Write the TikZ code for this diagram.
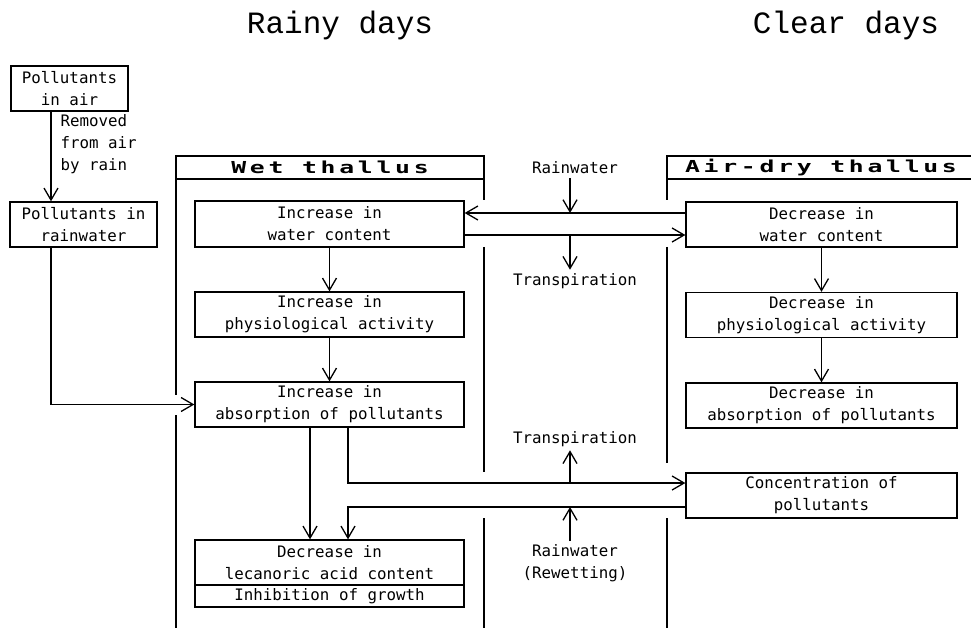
\documentclass[tikz,border=0pt]{standalone}
\usepackage{fontspec}
\usetikzlibrary{arrows.meta}
\newfontfamily\boxfont{DejaVu Sans Mono}
\newfontfamily\titlefont{Liberation Mono}
\newfontfamily\headfont[LetterSpace=15]{DejaVu Sans Mono}
\newcommand\bxf{\boxfont\fontsize{15.8}{22}\selectfont}
\newcommand\ttlf{\titlefont\fontsize{31}{34}\selectfont}
\newcommand\hdf{\headfont\bfseries\fontsize{16.5}{20}\selectfont}
\begin{document}
\begin{tikzpicture}[x=1pt,y=-1pt,line width=1.3pt,
  box/.style={draw,minimum width=269pt,minimum height=45pt,inner sep=0pt,align=center,font=\bxf},
  lbl/.style={align=center,inner sep=3pt,font=\bxf},
  arr/.style={-{Straight Barb[length=12pt,width=14pt]}}]
\useasboundingbox (0,0) rectangle (971,628);

% titles
\node[font=\ttlf] (t1) at (340,25) {Rainy days};
\node[font=\ttlf] (t2) at (846,25) {Clear days};

% left column
\node[box,minimum width=117pt] (pia) at (69.5,88.5) {Pollutants\\in air};
\node[box,minimum width=147pt] (pir) at (83.5,224.5) {Pollutants in\\rainwater};
\node[lbl,anchor=north west,align=left,inner sep=0pt] (rem) at (60,114) {Removed\\from air\\by rain};

% headers
\node[draw,minimum width=308pt,minimum height=23pt,inner sep=0pt,font=\hdf] (wet) at (330,167.5) {\scalebox{1.5}[1]{Wet thallus}};
\node[inner sep=0pt,font=\hdf] (dry) at (821,167.5) {\scalebox{1.5}[1]{Air-dry thallus}};
\draw (667,179) -- (667,156) -- (975,156);
\draw (667,179) -- (975,179);

% frame lines
\draw (176,179) -- (176,395) (176,415) -- (176,628);
\draw (484,179) -- (484,200) (484,247) -- (484,472) (484,518) -- (484,628);
\draw (667,179) -- (667,200) (667,247) -- (667,463) (667,518) -- (667,628);

% wet column
\node[box,minimum height=46pt] (iwc) at (329.5,224) {Increase in\\water content};
\node[box] (ipa) at (329.5,314.5) {Increase in\\physiological activity};
\node[box] (iap) at (329.5,404.5) {Increase in\\absorption of pollutants};
\node[box] (dla) at (329.5,562.5) {Decrease in\\lecanoric acid content};
\node[box,minimum height=22pt] (iog) at (329.5,596) {Inhibition of growth};

% dry column
\node[box,minimum width=271pt] (dwc) at (821.5,224.5) {Decrease in\\water content};
\node[box,minimum width=271pt] (dpa) at (821.5,315) {Decrease in\\physiological activity};
\node[box,minimum width=271pt] (dap) at (821.5,405.5) {Decrease in\\absorption of pollutants};
\node[box,minimum width=271pt] (cop) at (821.5,495.5) {Concentration of\\pollutants};

% helper coordinates
\coordinate (xa) at (51,0);
\coordinate (xm) at (570,0);
\coordinate (x1) at (310,0);
\coordinate (x2) at (348,0);
\coordinate (yt1) at (0,213);
\coordinate (yt2) at (0,235);
\coordinate (yb1) at (0,483);
\coordinate (yb2) at (0,507);

% connectors
\draw[arr] (pia.south -| xa) -- (pir.north -| xa);
\draw[arr] (pir.south -| xa) |- (iap.west);
\draw[arr] (iwc.south) -- (ipa.north);
\draw[arr] (ipa.south) -- (iap.north);
\draw[arr] (dwc.south) -- (dpa.north);
\draw[arr] (dpa.south) -- (dap.north);
\draw[arr] (iap.south -| x1) -- (dla.north -| x1);
\draw[arr] (iap.south -| x2) |- (cop.west |- yb1);
\draw[arr] (cop.west |- yb2) -| (dla.north -| x2);
\draw[arr] (dwc.west |- yt1) -- (iwc.east |- yt1);
\draw[arr] (iwc.east |- yt2) -- (dwc.west |- yt2);

% side labels
\node[lbl] (rw1) at (575,168) {Rainwater};
\draw[arr] (rw1.south -| xm) -- (xm |- yt1);
\node[lbl] (tr1) at (575,281) {Transpiration};
\draw[arr] (xm |- yt2) -- (tr1.north -| xm);
\node[lbl] (tr2) at (575,439) {Transpiration};
\draw[arr] (xm |- yb1) -- (tr2.south -| xm);
\node[lbl] (rw2) at (575,563.5) {Rainwater\\(Rewetting)};
\draw[arr] (rw2.north -| xm) -- (xm |- yb2);
\end{tikzpicture}
\end{document}
